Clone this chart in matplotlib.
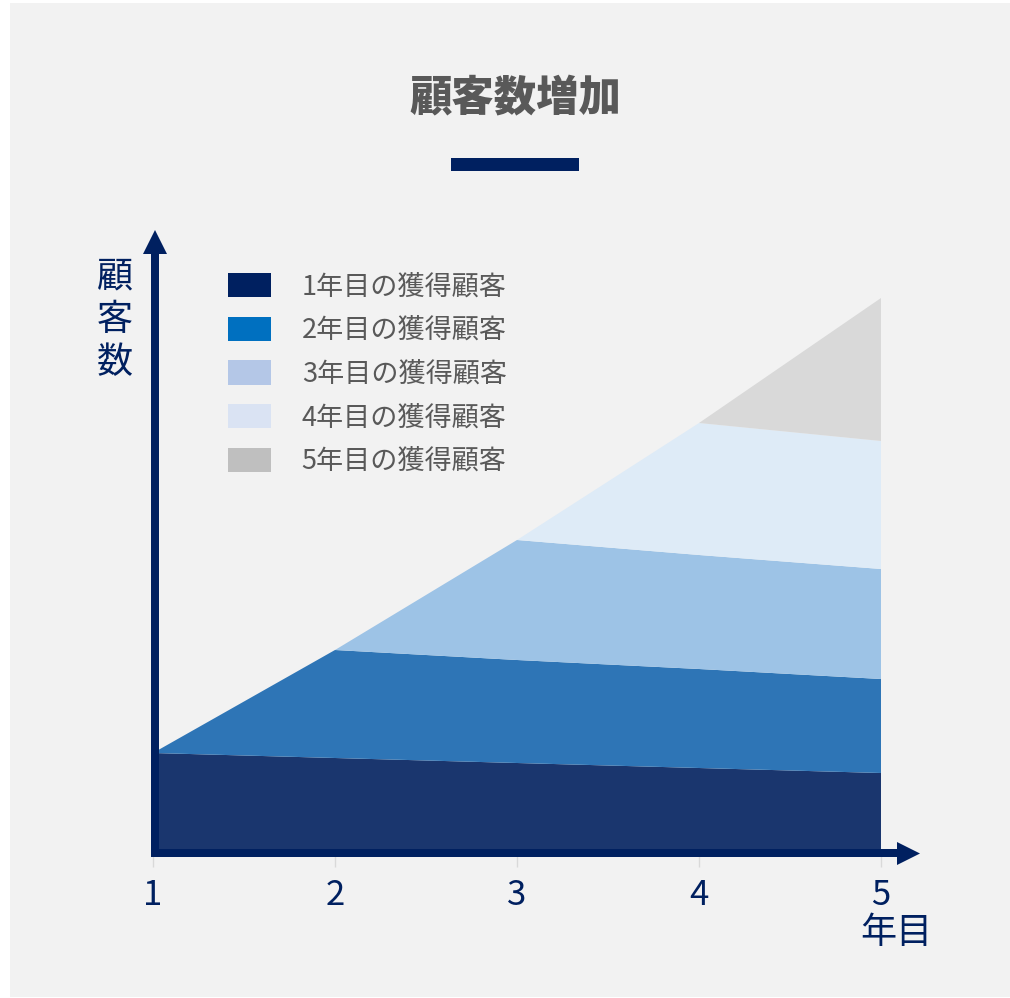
import matplotlib
matplotlib.use("Agg")
import matplotlib.pyplot as plt
from matplotlib.patches import Rectangle, Polygon, Patch
from matplotlib.lines import Line2D

plt.rcParams['font.family'] = ['Noto Sans CJK JP', 'DejaVu Sans']

# ---- data ----
years = [1, 2, 3, 4, 5]
year_labels = ["1", "2", "3", "4", "5"]
cohort1 = [100, 95, 90, 85, 80]
cohort2 = [0, 108, 103, 99, 94]
cohort3 = [0, 0, 120, 114, 110]
cohort4 = [0, 0, 0, 132, 128]
cohort5 = [0, 0, 0, 0, 143]
series_names = ["1年目の獲得顧客", "2年目の獲得顧客", "3年目の獲得顧客",
                "4年目の獲得顧客", "5年目の獲得顧客"]
area_colors = ["#1a366e", "#2e75b6", "#9dc3e6", "#deebf7", "#d9d9d9"]
legend_colors = ["#002060", "#0070c0", "#b4c7e7", "#dae3f3", "#bfbfbf"]
title = "顧客数増加"
x_label = "年目"
y_label = "顧客数"

NAVY = "#002060"
GRAY_TXT = "#595959"

W, H = 1010, 998
fig = plt.figure(figsize=(W / 100, H / 100), dpi=100, facecolor="white")

def fx(px):
    return px / W

def fy(py):
    return 1 - py / H

# background panel
fig.patches.append(Rectangle((fx(10), fy(997)), fx(1000), (997 - 3) / H,
                             transform=fig.transFigure, facecolor="#f2f2f2",
                             edgecolor="none", zorder=-5))

# ---- data axes ----
x0, x1 = 153, 881
ybase, ytop = 853, 298
ax = fig.add_axes([fx(x0), fy(ybase), (x1 - x0) / W, (ybase - ytop) / H])
ax.set_zorder(1)
ax.set_facecolor("none")
ax.stackplot(years, cohort1, cohort2, cohort3, cohort4, cohort5,
             colors=area_colors, linewidth=0, zorder=2)
ax.set_xlim(1, 5)
ax.set_ylim(0, sum(c[-1] for c in [cohort1, cohort2, cohort3, cohort4, cohort5]))
for s in ax.spines.values():
    s.set_visible(False)
ax.set_yticks([])
ax.set_xticks(years)
ax.set_xticklabels(year_labels, fontsize=25, color=NAVY)
ax.tick_params(axis="x", length=10, width=1, color="#d9d9d9", pad=8,
               direction="out")

handles = [Patch(facecolor=c, edgecolor="none") for c in legend_colors]
leg = ax.legend(handles, series_names, loc="upper left",
                bbox_to_anchor=(fx(228), fy(273)), bbox_transform=fig.transFigure,
                frameon=False, fontsize=19.5, handlelength=1.6, handleheight=1.0,
                handletextpad=1.12, labelspacing=0.6, borderpad=0, borderaxespad=0)
for t in leg.get_texts():
    t.set_color(GRAY_TXT)

# ---- overlay axes for decorations (pixel coordinates) ----
ov = fig.add_axes([0, 0, 1, 1])
ov.set_xlim(0, W)
ov.set_ylim(H, 0)
ov.axis("off")
ov.set_zorder(3)
lw = 8 * 0.72
ov.add_line(Line2D([155, 155], [857, 252], color=NAVY, lw=lw, solid_capstyle="butt"))
ov.add_patch(Polygon([[143, 254], [167, 254], [155, 230]], closed=True,
                     facecolor=NAVY, edgecolor="none"))
ov.add_line(Line2D([151, 899], [853, 853], color=NAVY, lw=lw, solid_capstyle="butt"))
ov.add_patch(Polygon([[897, 842], [897, 865], [920, 853.5]], closed=True,
                     facecolor=NAVY, edgecolor="none"))
ov.add_patch(Rectangle((451, 158), 128, 13, facecolor=NAVY, edgecolor="none"))

ov.text(515, 99, title, fontsize=30.5, fontweight="heavy", color=GRAY_TXT,
        ha="center", va="center")
ov.text(896, 933, x_label, fontsize=26, color=NAVY, ha="center", va="center")
ov.text(115, 320, "\n".join(y_label), fontsize=26, color=NAVY, ha="center",
        va="center", linespacing=1.26)

fig.savefig("out.png", dpi=100, facecolor="white")
